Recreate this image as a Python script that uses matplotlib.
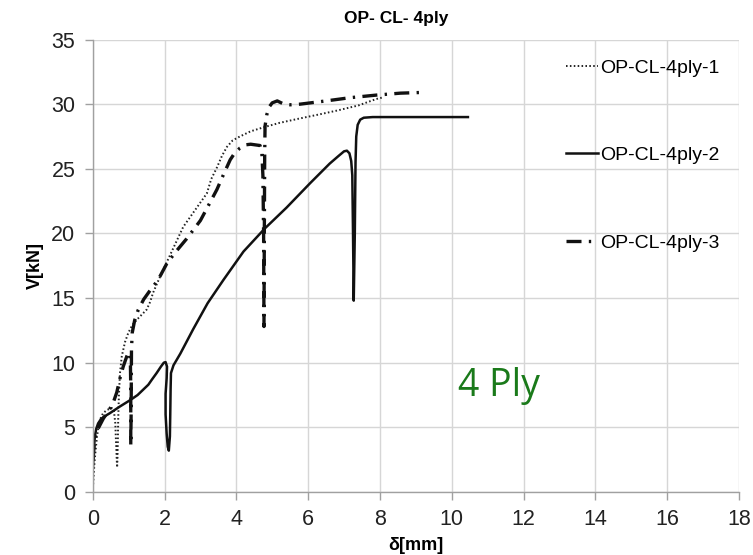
import matplotlib
matplotlib.use("Agg")
import matplotlib.pyplot as plt

plt.rcParams['font.family'] = ['Liberation Sans', 'DejaVu Sans']

# Load-displacement curves, OP-CL 4-ply specimens
labels = ["OP-CL-4ply-1", "OP-CL-4ply-2", "OP-CL-4ply-3"]

d1 = [0.0, 0.02, 0.05, 0.08, 0.12, 0.16, 0.22, 0.29, 0.4, 0.53, 0.59, 0.63,
      0.65, 0.67, 0.68, 0.69, 0.7, 0.71, 0.73, 0.76, 0.81, 0.9, 0.99, 1.1,
      1.22, 1.36, 1.5, 1.6, 1.68, 1.82, 2.1, 2.52, 2.9, 3.18, 3.3, 3.46,
      3.6, 3.74, 3.9, 4.1, 4.4, 4.75, 5.2, 5.78, 6.3, 6.8, 7.4, 7.9, 8.05]
v1 = [0.0, 1.0, 2.3, 3.2, 4.3, 5.0, 5.7, 6.1, 6.35, 6.5, 6.3, 5.3,
      3.8, 2.5, 1.9, 2.6, 3.8, 5.6, 7.5, 9.2, 10.5, 11.6, 12.3, 12.9,
      13.3, 13.7, 14.1, 14.7, 15.4, 16.3, 18.0, 20.5, 22.0, 23.1, 24.2, 25.1,
      26.0, 26.7, 27.2, 27.5, 27.9, 28.2, 28.55, 28.9, 29.2, 29.5, 29.9, 30.4, 30.5]

d2 = [0.01, 0.03, 0.06, 0.1, 0.15, 0.22, 0.3, 0.48, 0.75, 1.04, 1.25, 1.4,
      1.55, 1.65, 1.78, 1.9, 1.98, 2.03, 2.07, 2.06, 2.03, 2.03, 2.06, 2.09,
      2.12, 2.15, 2.16, 2.17, 2.18, 2.25, 2.44, 2.8, 3.2, 3.64, 4.2, 4.8,
      5.4, 6.06, 6.6, 6.85, 7.0, 7.08, 7.15, 7.2, 7.23, 7.25, 7.27, 7.3,
      7.32, 7.34, 7.38, 7.45, 7.55, 7.8, 10.45]
v2 = [2.0, 3.2, 4.3, 4.9, 5.3, 5.6, 5.8, 6.1, 6.6, 7.1, 7.5, 7.9,
      8.3, 8.7, 9.2, 9.7, 10.0, 10.05, 9.7, 8.8, 7.6, 6.0, 4.5, 3.5,
      3.2, 4.3, 6.0, 8.0, 9.2, 9.8, 10.7, 12.6, 14.6, 16.4, 18.6, 20.4,
      22.0, 23.9, 25.4, 26.0, 26.35, 26.4, 26.2, 25.6, 24.5, 20.0, 14.8, 20.0,
      25.5, 27.5, 28.4, 28.8, 28.95, 29.0, 29.0]

d3 = [0.01, 0.05, 0.1, 0.15, 0.3, 0.45, 0.57, 0.67, 0.76, 0.85, 0.95, 1.0,
      1.03, 1.05, 1.06, 1.06, 1.07, 1.08, 1.1, 1.17, 1.27, 1.42, 1.6, 1.82,
      2.07, 2.35, 2.62, 3.0, 3.25, 3.46, 3.65, 3.83, 3.95, 4.1, 4.25, 4.4,
      4.66, 4.71, 4.74, 4.76, 4.77, 4.78, 4.79, 4.8, 4.85, 4.92, 5.0, 5.14,
      5.25, 5.35, 5.5, 5.78, 6.5, 7.17, 7.9, 8.57, 9.12]
v3 = [2.5, 4.0, 4.6, 4.9, 5.7, 6.3, 6.9, 7.7, 8.8, 9.7, 10.5, 10.8,
      10.7, 10.0, 8.0, 3.6, 6.0, 11.0, 12.3, 13.3, 14.1, 14.9, 15.6, 16.4,
      17.7, 18.7, 19.6, 21.0, 22.3, 23.4, 24.6, 25.7, 26.2, 26.6, 26.85, 26.9,
      26.8, 26.3, 24.5, 20.0, 12.8, 20.0, 26.0, 28.3, 29.2, 29.8, 30.1, 30.25,
      30.1, 29.98, 29.95, 30.0, 30.25, 30.5, 30.7, 30.85, 30.9]

x_ticks = list(range(0, 19, 2))
y_ticks = list(range(0, 36, 5))

W, H = 753, 555
fig = plt.figure(figsize=(W / 100, H / 100), dpi=100)
ax = fig.add_axes([92.7 / W, 63 / H, (739 - 92.7) / W, (492 - 39.5) / H])

ax.plot(d1, v1, color="#222222", lw=1.4, linestyle=(0, (0.8, 1.2)), label=labels[0])
ax.plot(d2, v2, color="#111111", lw=1.8, linestyle="-", label=labels[1])
ax.plot(d3, v3, color="#111111", lw=2.4, linestyle=(0, (4.5, 2.2, 0.7, 2.2)), label=labels[2])

ax.set_xlim(0, 18)
ax.set_ylim(0, 35)
ax.set_xticks(x_ticks)
ax.set_yticks(y_ticks)
ax.grid(True, color="#d6d6d6", lw=1.0)
ax.set_axisbelow(True)
for s in ("top", "right"):
    ax.spines[s].set_visible(False)
for s in ("left", "bottom"):
    ax.spines[s].set_color("#a0a0a0")
    ax.spines[s].set_linewidth(1.0)
ax.tick_params(axis="both", colors="#a0a0a0", labelcolor="#222222",
               labelsize=15.5, length=5.5, width=1.0, pad=7)

ax.set_xlabel("δ[mm]", fontsize=13, fontweight="bold", labelpad=5)
ax.set_ylabel("V[kN]", fontsize=13, fontweight="bold", labelpad=5)

fig.text(396 / W, 1 - 19 / H, "OP- CL- 4ply", ha="center", va="center",
         fontsize=12.5, fontweight="bold")

leg = ax.legend(loc="upper left", bbox_to_anchor=(566 / W, 1 - 59 / H),
                bbox_transform=fig.transFigure, frameon=False, fontsize=14,
                handlelength=1.65, handletextpad=0.1, labelspacing=3.6,
                borderpad=0, borderaxespad=0)

fig.text(499 / W, 1 - 396 / H, "4 Ply", ha="center", va="baseline",
         fontsize=27, color="#1a7a1a", family=["Open Sans", "DejaVu Sans"])

fig.savefig("out.png", dpi=100)
